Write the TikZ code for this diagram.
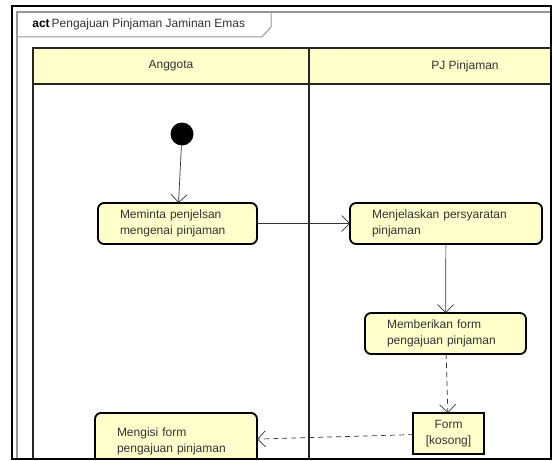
\documentclass[tikz,border=0pt]{standalone}
\usepackage{fontspec}
\setmainfont{Liberation Sans}
\usetikzlibrary{arrows.meta}

\definecolor{actfill}{RGB}{255,255,204}
\definecolor{txtgray}{RGB}{51,51,51}
\definecolor{framegray}{RGB}{150,150,150}

\begin{document}
\begin{tikzpicture}[x=1pt,y=-1pt,
  every node/.style={font=\fontsize{12}{16}\selectfont, text=txtgray, outer sep=0pt},
  action/.style={draw=black, line width=1.8pt, rounded corners=6pt, fill=actfill, align=left, inner xsep=22pt, inner ysep=0pt, minimum height=41pt},
  objbox/.style={draw=black, line width=1.8pt, fill=actfill, align=center, minimum width=71pt, minimum height=41pt, inner sep=0pt},
  flow/.style={draw=txtgray, line width=0.7pt, -{Straight Barb[length=8pt,width=16pt]}},
  objflow/.style={flow, dash pattern=on 5pt off 4pt}]
\useasboundingbox (0,0) rectangle (553,460);
\begin{scope}
\clip (12,6) rectangle (551,459);

% frame
\draw[framegray, line width=1.5pt] (17,470) -- (17,12) -- (560,12);
\draw[framegray, line width=1pt] (17,37) -- (262,37) -- (271,27) -- (271,12);
\node[anchor=base west, text=black] (title) at (29,28) {\textbf{act}\,\textcolor{txtgray}{Pengajuan Pinjaman Jaminan Emas}};

% swimlanes
\fill[actfill] (33,48) rectangle (620,84);
\draw[black!85, line width=1.5pt] (33,470) -- (33,48) -- (620,48);
\draw[black!85, line width=1.5pt] (33,84) -- (620,84);
\draw[black!85, line width=1.5pt] (309,48) -- (309,470);
\node (anggota) at (171,66) {Anggota};
\node (pjpinjaman) at (465,66) {PJ Pinjaman};

% actions
\node[circle, fill=black, minimum size=23pt, inner sep=0pt] (start) at (182,134) {};
\node[action, text width=115pt] (minta) at (177.5,223.5) {Meminta penjelsan\\mengenai pinjaman};
\node[action, text width=148pt] (jelaskan) at (446,223.5) {Menjelaskan persyaratan\\pinjaman};
\node[action, text width=117pt] (beri) at (445.5,333.5) {Memberikan form\\pengajuan pinjaman};
\node[objbox] (form) at (448.5,433.5) {Form\\{[kosong]}};
\node[action, text width=118pt, minimum height=57pt] (isi) at (176,441.5) {Mengisi form\\pengajuan pinjaman};

\draw[flow] (start) -- (minta);
\draw[flow] (minta) -- (jelaskan);
\draw[flow] (jelaskan) -- (beri);
\draw[objflow] (beri) -- (form);
\draw[objflow] (form) -- (isi);
\end{scope}
\draw[black, line width=2pt] (12,6) rectangle (551,459);
\end{tikzpicture}
\end{document}
